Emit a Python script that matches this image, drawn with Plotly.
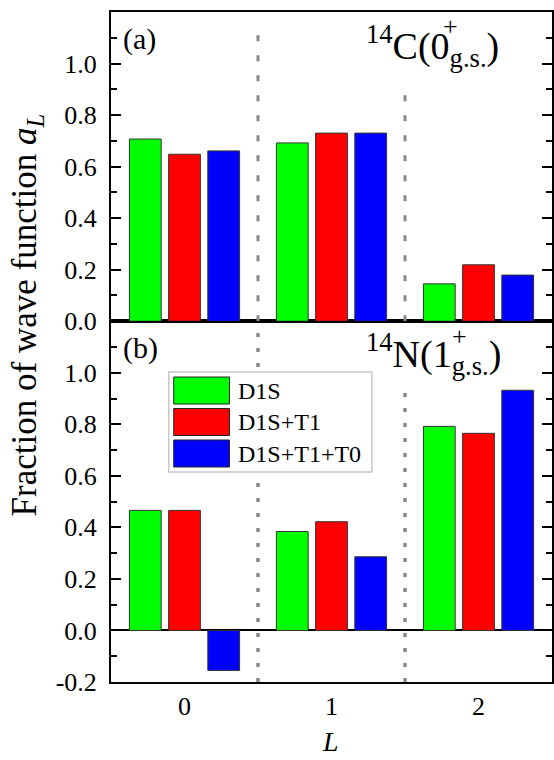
import plotly.graph_objects as go

# ---------------- data ----------------
L_vals = [0, 1, 2]
L_ticktext = ["0", "1", "2"]
series_names = ["D1S", "D1S+T1", "D1S+T1+T0"]
series_colors = ["#00ff00", "#ff0000", "#0000ff"]

c14_d1s = [0.707, 0.692, 0.145]
c14_d1s_t1 = [0.648, 0.730, 0.219]
c14_d1s_t1_t0 = [0.661, 0.730, 0.179]

n14_d1s = [0.466, 0.384, 0.792]
n14_d1s_t1 = [0.466, 0.422, 0.765]
n14_d1s_t1_t0 = [-0.155, 0.286, 0.932]

top_tickvals = [0.0, 0.2, 0.4, 0.6, 0.8, 1.0]
top_ticktext = ["0.0", "0.2", "0.4", "0.6", "0.8", "1.0"]
bot_tickvals = [-0.2, 0.0, 0.2, 0.4, 0.6, 0.8, 1.0]
bot_ticktext = ["-0.2", "0.0", "0.2", "0.4", "0.6", "0.8", "1.0"]

# ---------------- figure ----------------
W, H = 554, 760
PL, PR, PT, PB = 111, 554, 12, 682
FONT = "Times New Roman, Liberation Serif, Times, serif"


def px_x(px):
    return (px - PL) / (PR - PL)


def px_y(py):
    return (PB - py) / (PB - PT)


fig = go.Figure()

top_series = [c14_d1s, c14_d1s_t1, c14_d1s_t1_t0]
bot_series = [n14_d1s, n14_d1s_t1, n14_d1s_t1_t0]

for name, col, vals in zip(series_names, series_colors, top_series):
    fig.add_trace(go.Bar(x=L_vals, y=vals, name=name, marker_color=col,
                         marker_line=dict(color="#333333", width=1),
                         xaxis="x2", yaxis="y2", showlegend=False,
                         offsetgroup=name))
for name, col, vals in zip(series_names, series_colors, bot_series):
    fig.add_trace(go.Bar(x=L_vals, y=vals, name=name, marker_color=col,
                         marker_line=dict(color="#333333", width=1),
                         xaxis="x", yaxis="y", showlegend=False,
                         offsetgroup=name))

top_range = [0, 1.2]
bot_range = [-0.2, 1.2]
total = (top_range[1] - top_range[0]) + (bot_range[1] - bot_range[0])
split = (bot_range[1] - bot_range[0]) / total

yaxis_common = dict(
    showline=True, linecolor="black", linewidth=2, mirror="ticks",
    ticks="inside", ticklen=10, tickwidth=2, tickcolor="black",
    minor=dict(ticks="inside", ticklen=6, tickwidth=2, tickcolor="black",
               dtick=0.1, tick0=0, showgrid=False),
    showgrid=False, tickfont=dict(family=FONT, size=26, color="black"),
    ticklabelstandoff=7,
)

fig.update_layout(
    width=W, height=H,
    margin=dict(l=PL, r=W - PR, t=PT, b=H - PB),
    paper_bgcolor="white", plot_bgcolor="white",
    barmode="group", bargap=0.2, bargroupgap=0.19,
    showlegend=False,
    font=dict(family=FONT, color="black"),
    xaxis=dict(domain=[0, 1], anchor="y", range=[-0.5, 2.5],
               tickvals=L_vals, ticktext=L_ticktext, ticks="",
               showline=True, linecolor="black", linewidth=2, mirror=True,
               showgrid=False, zeroline=False,
               tickfont=dict(family=FONT, size=26, color="black")),
    xaxis2=dict(domain=[0, 1], anchor="y2", range=[-0.5, 2.5],
                matches="x", showticklabels=False, ticks="",
                showline=True, linecolor="black", linewidth=2, mirror=True,
                showgrid=False, zeroline=False),
    yaxis=dict(domain=[0, split], anchor="x", range=bot_range,
               tickvals=bot_tickvals, ticktext=bot_ticktext,
               zeroline=True, zerolinecolor="black", zerolinewidth=2,
               **yaxis_common),
    yaxis2=dict(domain=[split, 1], anchor="x2", range=top_range,
                tickvals=top_tickvals, ticktext=top_ticktext,
                zeroline=False, **yaxis_common),
)

# separators between L groups
sep_x = [0.5, 1.5]
top_sep_start = [1.16, 0.92]
bot_sep_start = [1.2, 0.93]
for xs, ys in zip(sep_x, top_sep_start):
    fig.add_shape(type="line", xref="x2", yref="y2", x0=xs, x1=xs, y0=0, y1=ys,
                  line=dict(color="#888888", width=3, dash="6px,14px"), layer="below")
for xs, ys in zip(sep_x, bot_sep_start):
    fig.add_shape(type="line", xref="x", yref="y", x0=xs, x1=xs, y0=bot_range[0], y1=ys,
                  line=dict(color="#888888", width=3.5, dash="4px,11px"), layer="below")

# manual legend
fig.add_shape(type="rect", xref="paper", yref="paper",
              x0=px_x(169), x1=px_x(373), y0=px_y(472), y1=px_y(372),
              line=dict(color="#c8c8c8", width=1.5), fillcolor="white", layer="above")
for i, (name, col) in enumerate(zip(series_names, series_colors)):
    top = 377 + i * 31.5
    fig.add_shape(type="rect", xref="paper", yref="paper",
                  x0=px_x(174), x1=px_x(230), y0=px_y(top + 27), y1=px_y(top),
                  line=dict(color="#222222", width=1), fillcolor=col, layer="above")
    fig.add_annotation(x=px_x(237), y=px_y(top + 13.5), xref="paper", yref="paper",
                       text=name, showarrow=False, xanchor="left", yanchor="middle",
                       font=dict(family=FONT, size=24, color="black"))

# panel labels
fig.add_annotation(x=px_x(121), y=px_y(39), xref="paper", yref="paper", text="(a)",
                   showarrow=False, xanchor="left", yanchor="middle",
                   font=dict(family=FONT, size=30, color="black"))
fig.add_annotation(x=px_x(121), y=px_y(348), xref="paper", yref="paper", text="(b)",
                   showarrow=False, xanchor="left", yanchor="middle",
                   font=dict(family=FONT, size=30, color="black"))

# nucleus labels
fig.add_annotation(x=px_x(365), y=px_y(46), xref="paper", yref="paper",
                   text="<sup>14</sup>C(0<sub>g.s.</sub>)", showarrow=False,
                   xanchor="left", yanchor="middle",
                   font=dict(family=FONT, size=38, color="black"))
fig.add_annotation(x=px_x(452), y=px_y(27), xref="paper", yref="paper",
                   text="+", showarrow=False, xanchor="center", yanchor="middle",
                   font=dict(family=FONT, size=26, color="black"))
fig.add_annotation(x=px_x(365), y=px_y(354), xref="paper", yref="paper",
                   text="<sup>14</sup>N(1<sub>g.s.</sub>)", showarrow=False,
                   xanchor="left", yanchor="middle",
                   font=dict(family=FONT, size=38, color="black"))
fig.add_annotation(x=px_x(461), y=px_y(336), xref="paper", yref="paper",
                   text="+", showarrow=False, xanchor="center", yanchor="middle",
                   font=dict(family=FONT, size=26, color="black"))

# axis titles
fig.add_annotation(x=px_x(27), y=px_y(315), xref="paper", yref="paper",
                   text="Fraction of wave function <i>a</i><sub><i>L</i></sub>",
                   textangle=-90, showarrow=False, xanchor="center", yanchor="middle",
                   font=dict(family=FONT, size=35, color="black"))
fig.add_annotation(x=px_x(331), y=px_y(759), xref="paper", yref="paper",
                   text="<i>L</i>", showarrow=False, xanchor="center", yanchor="bottom",
                   font=dict(family=FONT, size=28, color="black"))

fig.write_html("out.html")
